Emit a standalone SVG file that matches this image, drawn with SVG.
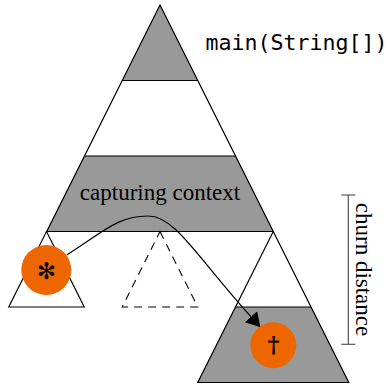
<svg xmlns="http://www.w3.org/2000/svg" width="391" height="385" viewBox="0 0 391 385">
  <style>
    .edge { fill: none; stroke: #000; stroke-width: 1.2; stroke-linejoin: miter; }
    .band { fill: #999999; stroke: none; }
    .blank { fill: #ffffff; stroke: none; }
    .dashed { fill: none; stroke: #000; stroke-width: 1.1; stroke-dasharray: 8 6; }
    .mark { fill: #ee6600; stroke: none; }
    .serif { font-family: "Liberation Serif", "Times New Roman", serif; fill: #000; }
    .mono { font-family: "DejaVu Sans Mono", "Liberation Mono", monospace; fill: #000; }
    .bracket { stroke: #555555; stroke-width: 1.2; fill: none; }
  </style>
  <defs>
    <marker id="arrowhead" markerUnits="userSpaceOnUse" markerWidth="16" markerHeight="18" refX="0" refY="0" viewBox="0 -8 14 16" orient="auto">
      <path d="M0,-7.3 L12.5,0 L0,7.3 z" fill="#000"/>
    </marker>
  </defs>

  <!-- call tree rooted at main -->
  <g id="main-tree">
    <polygon class="blank" points="160,5 273.25,231.5 46.75,231.5"/>
    <polygon class="band" points="160,5 197.75,80.5 122.25,80.5"/>
    <polygon class="band" points="84.5,156 235.5,156 273.25,231.5 46.75,231.5"/>
    <line class="edge" x1="122.25" y1="80.5" x2="197.75" y2="80.5"/>
    <line class="edge" x1="84.5" y1="156" x2="235.5" y2="156"/>
    <polygon class="edge" points="160,5 273.25,231.5 46.75,231.5"/>
    <text class="serif" x="160" y="200" font-size="23" text-anchor="middle">capturing context</text>
  </g>

  <g id="main-label">
    <text class="mono" x="205.5" y="50" font-size="21.6">main(String[])</text>
  </g>

  <!-- left subtree -->
  <g id="left-subtree">
    <polygon class="edge" fill="#fff" points="46.5,231.5 84.25,307 8.75,307"/>
  </g>

  <!-- subtree that is no longer reached -->
  <g id="removed-subtree">
    <polygon class="dashed" points="160,231.5 197.75,307 122.25,307"/>
  </g>

  <!-- right subtree -->
  <g id="right-subtree">
    <polygon class="blank" points="273.25,231.5 348.75,382.5 197.75,382.5"/>
    <polygon class="band" points="235.5,307 311,307 348.75,382.5 197.75,382.5"/>
    <line class="edge" x1="235.5" y1="307" x2="311" y2="307"/>
    <polygon class="edge" points="273.25,231.5 348.75,382.5 197.75,382.5"/>
  </g>

  <!-- connectors -->
  <g id="connectors">
    <path class="edge" d="M66.7,255 C106.7,229.4 118.3,216 148.3,216 C175,216 196,255.7 251,316.7" marker-end="url(#arrowhead)"/>
  </g>

  <!-- capture point -->
  <g id="capture-point">
    <circle class="mark" cx="46.3" cy="270" r="25"/>
    <text x="46.3" y="270.5" font-family="DejaVu Sans, sans-serif" font-size="23" text-anchor="middle" dominant-baseline="central" fill="#000">✻</text>
  </g>

  <!-- failure point -->
  <g id="failure-point">
    <circle class="mark" cx="273.3" cy="345.3" r="23"/>
    <text x="273.6" y="351.5" font-family="DejaVu Serif, serif" font-size="23" font-weight="bold" text-anchor="middle" fill="#000">†</text>
  </g>

  <!-- churn distance bracket -->
  <g id="churn-distance">
    <line class="bracket" x1="348.3" y1="195" x2="348.3" y2="344.3"/>
    <line class="bracket" x1="341.3" y1="195" x2="355.3" y2="195"/>
    <line class="bracket" x1="341.3" y1="344.3" x2="355.3" y2="344.3"/>
    <text class="serif" transform="translate(356,269.5) rotate(90)" font-size="23" text-anchor="middle" fill="#222">churn distance</text>
  </g>
</svg>
